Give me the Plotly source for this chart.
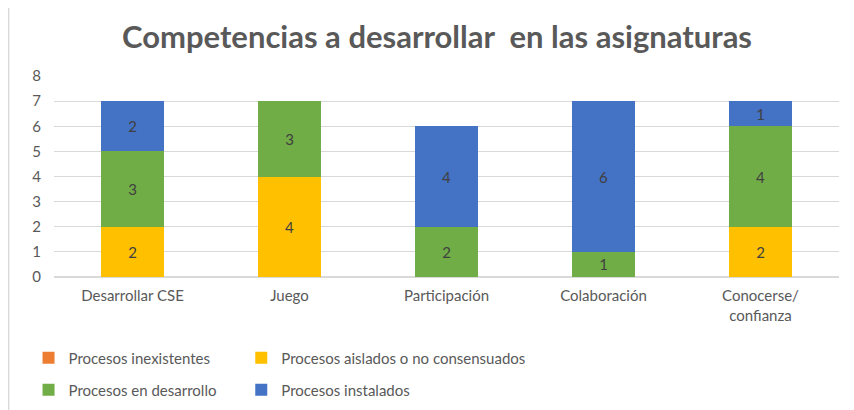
import plotly.graph_objects as go

categories = ["Desarrollar CSE", "Juego", "Participación", "Colaboración", "Conocerse/<br>confianza"]
series_names = ["Procesos inexistentes", "Procesos aislados o no consensuados",
                "Procesos en desarrollo", "Procesos instalados"]
inexistentes = [0, 0, 0, 0, 0]
aislados = [2, 4, 0, 0, 2]
desarrollo = [3, 3, 2, 1, 4]
instalados = [2, 0, 4, 6, 1]
colors = ["#ED7D31", "#FFC000", "#70AD47", "#4472C4"]

FONT = "Lato, sans-serif"
OFF = 8  # page body margin

# page-pixel geometry of plot area
PL, PR, PT, PB = 53.5, 839.5, 76, 277
W, H = 854, 410
L = PL - OFF
T = PT - OFF
R = W - (PR - OFF)
B = H - (PB - OFF)
pw, ph = PR - PL, PB - PT

def px(xp):
    return (xp - PL) / pw

def py(yp):
    return 1 - (yp - PT) / ph

legend_names = ["legend", "legend2", "legend3", "legend4"]
legend_pos = [(28, 358), (241, 358), (28, 390), (241, 390)]

fig = go.Figure()
for name, vals, col, lg in zip(series_names, [inexistentes, aislados, desarrollo, instalados], colors, legend_names):
    fig.add_trace(go.Bar(
        x=categories, y=vals, name=name, marker_color=col, marker_line_width=0,
        text=[str(v) if v else "" for v in vals], textposition="inside",
        insidetextanchor="middle", textangle=0,
        textfont=dict(color="#404040", size=15, family=FONT),
        legend=lg, showlegend=True, cliponaxis=False,
    ))

legends = {}
for lg, (lx, ly) in zip(legend_names, legend_pos):
    legends[lg] = dict(orientation="h", x=px(lx), xanchor="left", y=py(ly), yanchor="middle",
                       font=dict(size=15, color="#595959", family=FONT), itemwidth=30,
                       bgcolor="rgba(0,0,0,0)", visible=True)

fig.update_layout(
    width=W, height=H, showlegend=True,
    margin=dict(l=L, r=R, t=T, b=B, autoexpand=False),
    barmode="stack", bargap=0.6,
    paper_bgcolor="white", plot_bgcolor="white",
    font=dict(family=FONT, color="#595959", size=15),
    title=dict(text="<b>Competencias a desarrollar  en las asignaturas</b>",
               x=px(437), xanchor="center", xref="paper", y=1 - (37 - OFF) / H, yanchor="middle",
               font=dict(size=31, color="#595959", family=FONT)),
    xaxis=dict(showgrid=False, showline=False, ticks="", tickfont=dict(size=15, color="#595959"),
               ticklabelstandoff=8),
    yaxis=dict(range=[0, 8], dtick=1, showgrid=True, gridcolor="#D9D9D9", gridwidth=1,
               zeroline=True, zerolinecolor="#D9D9D9", showline=False, ticks="",
               tickfont=dict(size=15, color="#595959"), ticklabelstandoff=12),
    shapes=[
        dict(type="line", xref="paper", yref="paper", x0=px(8), x1=px(870), y0=py(7), y1=py(7),
             line=dict(color="#D9D9D9", width=1.5)),
        dict(type="line", xref="paper", yref="paper", x0=px(8), x1=px(8), y0=py(7), y1=py(430),
             line=dict(color="#D9D9D9", width=1.5)),
    ],
    **legends,
)

fig.write_html("out.html")
